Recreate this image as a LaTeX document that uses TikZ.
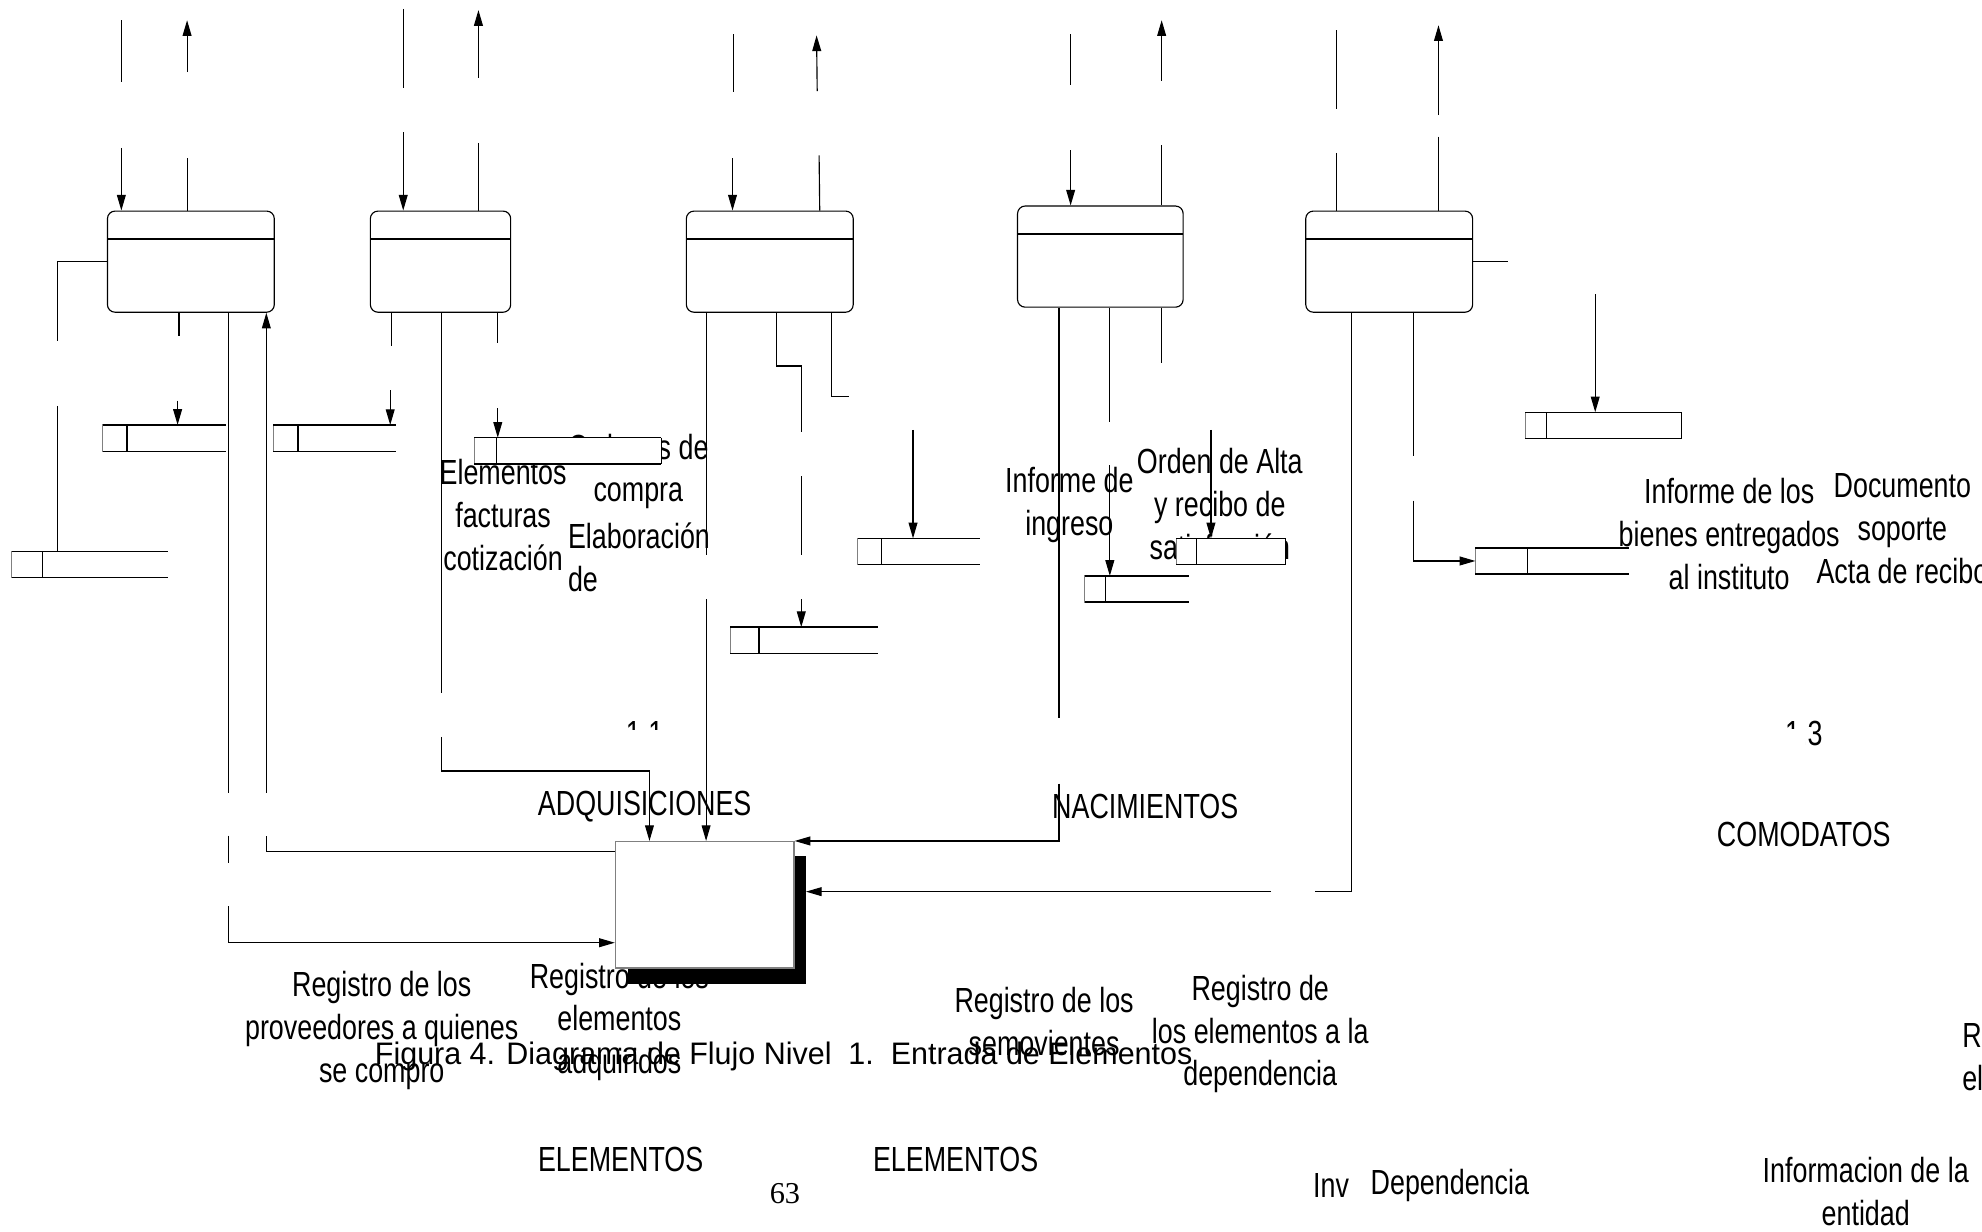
\documentclass[tikz,border=0pt]{standalone}
\usepackage{fontspec}
\setmainfont{Liberation Sans}[FakeStretch=0.77]
\newfontfamily\capfont{Liberation Sans}[FakeStretch=0.98]
\newfontfamily\pagefont{Liberation Serif}
\usetikzlibrary{arrows.meta, calc}
\tikzstyle{proc} = [draw, rounded corners=3pt, line width=0.45pt,
minimum height=40pt, inner sep=0pt,
path picture={\draw[line width=0.6pt] ([yshift=-11pt]path picture bounding box.north west) -- ([yshift=-11pt]path picture bounding box.north east);}]
\tikzstyle{store} = [minimum height=10pt, inner sep=0pt, fill=white]
\tikzstyle{ent} = [draw=gray, fill=white, line width=0.6pt,
minimum width=70.5pt, minimum height=49.9pt]
\tikzstyle{lbl} = [align=center, inner sep=0pt, font=\fontsize{13.8}{17}\selectfont]
\tikzstyle{flow} = [line width=0.45pt]
\tikzstyle{arrow} = [line width=0.45pt, -{Triangle[length=6.2pt,width=3.5pt]}]
\begin{document}
\begin{tikzpicture}[x=0.5pt, y=-0.5pt]
        \useasboundingbox (0,0) rectangle (1568,974);
        \clip (0,0) rectangle (1568,974);

        % --- Textos ---
        \node[lbl] (tElem) at (398,407.5) {Elementos\\facturas\\cotización};
        \node[lbl] (tOrd) at (505,373) {Ordenes de\\compra};
        \node[lbl, align=left, anchor=west] (tElab) at (449,441) {Elaboración\\de};
        \node[lbl] (tAlta) at (965,399) {Orden de Alta\\y recibo de\\satisfacción};
        \node[lbl, fill=white, inner xsep=2pt] (tInf) at (846,399.5) {Informe de\\ingreso};
        \node[lbl] (tBien) at (1368,422.5) {Informe de los\\bienes entregados\\al instituto};
        \node[lbl] (tDoc) at (1505,418.5) {Documento\\soporte\\Acta de recibo};
        \node[lbl] (tAdq) at (510,638) {ADQUISICIONES};
        \node[lbl] (tNac) at (906,638) {NACIMIENTOS};
        \node[lbl] (tCom) at (1427,660) {COMODATOS};
        \node[lbl] (tProv) at (302,815) {Registro de los\\proveedores a quienes\\se compro};
        \node[lbl] (tAdqR) at (490,808.5) {Registro de los\\elementos\\adquiridos};
        \node[lbl] (tSem) at (826,808.5) {Registro de los\\semovientes};
        \node[lbl] (tDep) at (997,818) {Registro de\\los elementos a la\\dependencia};
        \node[lbl] (tEl1) at (491,917) {ELEMENTOS};
        \node[lbl] (tEl2) at (756,917) {ELEMENTOS};
        \node[lbl] (tInv) at (1053,938) {Inv};
        \node[lbl] (tDepE) at (1147,938) {Dependencia};
        \node[lbl] (tEnt) at (1476,943) {Informacion de la\\entidad};
        \node[lbl, align=left, anchor=west] (tR) at (1552,836.5) {R\\el};
        \node[inner sep=0pt, font=\capfont\fontsize{12.3}{14}\selectfont] (cap) at (620,836) {Figura 4. Diagrama de Flujo Nivel\ \ 1.\ \ Entrada de Elementos};
        \node[inner sep=0pt, font=\pagefont\fontsize{12}{14}\selectfont] (pg) at (621,944) {63};
        \begin{scope}
            \clip (490,568) rectangle (530,577);
            \node[lbl] (n11) at (510,580) {1.1};
        \end{scope}
        \begin{scope}
            \clip (1410,566) rectangle (1422,576) (1428,565) rectangle (1446,596);
            \node[lbl] (n13) at (1427,580) {1.3};
        \end{scope}

        % --- Procesos ---
        \node[proc, minimum width=66pt] (P1) at (151,207) {};
        \node[proc, minimum width=55.5pt] (P2) at (348.5,207) {};
        \node[proc, minimum width=66pt] (P3) at (609,207) {};
        \node[proc, minimum width=65.5pt] (P4) at (870.5,203) {};
        \node[proc, minimum width=66pt] (P5) at (1099,207) {};

        % --- Almacenes ---
        \node[store, minimum width=61.6pt] (S1) at (71.1,446.5) {};
        \node[store, minimum width=48.15pt] (S2) at (129.85,346.55) {};
        \node[store, minimum width=48.25pt] (S3) at (264.75,346.6) {};
        \node[store, minimum width=73.65pt] (S4) at (449.05,356.7) {};
        \node[store, minimum width=58.2pt] (S5) at (636.2,506.5) {};
        \node[store, minimum width=48pt] (S6) at (727,436.3) {};
        \node[store, minimum width=40.75pt] (S7) at (899.25,466) {};
        \node[store, minimum width=42.8pt] (S8) at (973.8,436.3) {};
        \node[store, minimum width=60.2pt] (S9) at (1227.8,443.8) {};
        \node[store, minimum width=61.5pt] (S10) at (1268.5,336.5) {};
        \foreach \s/\d in {S1/24.5, S2/19.3, S3/19.5, S4/17.6, S5/23, S6/19, S7/16.5, S8/16, S9/41, S10/17} {
            \draw[gray, line width=0.4pt] (\s.north west) rectangle ($(\s.south west)+(\d,0)$);
            \draw[line width=0.55pt] ($(\s.north west)+(\d,0)$) -- ($(\s.south west)+(\d,0)$);
            \draw[line width=0.55pt] (\s.north west) -- (\s.north east) (\s.south west) -- (\s.south east);
        }
        \foreach \s in {S4, S8, S10}
            \draw[line width=0.45pt] (\s.north east) -- (\s.south east);

        % --- Entrada de elementos ---
        \node[ent] (E) at (557.5,715.8) {};
        \coordinate (shd) at ($(E.east)+(9,0)$);

        % --- Conexiones P1 ---
        \draw[flow] (96,16) -- (96,65);
        \draw[arrow] (96,117) -- (96,0 |- P1.north);
        \draw[arrow] (148,57) -- (148,16);
        \draw[flow] (148,125) -- (148,0 |- P1.north);
        \draw[flow] (P1.west) -| (45.6,269.5);
        \draw[flow] (45.6,321) -- (45.6,0 |- S1.north);
        \draw[flow] (141.6,0 |- P1.south) -- (141.6,265.6);
        \draw[arrow] (140.5,317) -- (140.5,0 |- S2.north);
        \draw[flow] (180.7,0 |- P1.south) -- (180.7,627);
        \draw[flow] (180.7,661) -- (180.7,682.5);
        \draw[arrow] (180.7,717) |- (E.west |- 0,745.8);
        \draw[flow] (E.west |- 0,673.8) -| (210.7,661);
        \draw[arrow] (210.7,627) -- (210.7,0 |- P1.south);

        % --- Conexiones P2 ---
        \draw[flow] (319,7) -- (319,70);
        \draw[arrow] (319,104.5) -- (319,0 |- P2.north);
        \draw[arrow] (378.5,61.5) -- (378.5,8);
        \draw[flow] (378.5,113) -- (378.5,0 |- P2.north);
        \draw[flow] (309.4,0 |- P2.south) -- (309.4,274);
        \draw[arrow] (308.7,308.6) -- (308.7,0 |- S3.north);
        \draw[flow] (349,0 |- P2.south) -- (349,548);
        \draw[arrow] (349,583) |- (513.8,610) -- (513.8,0 |- E.north);
        \draw[flow] (393.8,0 |- P2.south) -- (393.8,271);
        \draw[arrow] (393.8,322.8) -- (393.8,0 |- S4.north);

        % --- Conexiones P3 ---
        \draw[flow] (580,27) -- (580,73);
        \draw[arrow] (579.5,125) -- (579.5,0 |- P3.north);
        \draw[arrow] (646.5,72) -- (646,28);
        \draw[flow] (648,123) -- (648.5,0 |- P3.north);
        \draw[flow] (558.6,0 |- P3.south) -- (558.6,439);
        \draw[arrow] (558.6,474) -- (558.6,0 |- E.north);
        \draw[flow] (614.6,0 |- P3.south) |- (633.9,289.6) -- (633.9,341.8);
        \draw[flow] (633.9,376.6) -- (633.9,439);
        \draw[arrow] (633.9,474) -- (633.9,0 |- S5.north);
        \draw[flow] (657.6,0 |- P3.south) |- (671.4,314);
        \draw[arrow] (722.3,340) -- (722.3,0 |- S6.north);

        % --- Conexiones P4 ---
        \draw[flow] (847,27) -- (847,67);
        \draw[arrow] (847,119) -- (847,0 |- P4.north);
        \draw[arrow] (919,64) -- (919,16);
        \draw[flow] (919,115) -- (919,0 |- P4.north);
        \draw[flow] (837.8,0 |- P4.south) -- (837.8,568);
        \draw[arrow] (837.8,620) |- (E.north east);
        \draw[flow] (878,0 |- P4.south) -- (878,333.6);
        \draw[arrow] (878,368) -- (878,0 |- S7.north);
        \draw[flow] (919,0 |- P4.south) -- (919,287.4);
        \draw[arrow] (958,340) -- (958,0 |- S8.north);

        % --- Conexiones P5 ---
        \draw[flow] (1057,24) -- (1057,86.5);
        \draw[flow] (1057,121) -- (1057,0 |- P5.north);
        \draw[arrow] (1138,91) -- (1138,20);
        \draw[flow] (1138,108) -- (1138,0 |- P5.north);
        \draw[flow] (P5.east) -- (1193,207);
        \draw[flow] (1069.5,0 |- P5.south) |- (1040,705.4);
        \draw[arrow] (1005.6,705.4) -- (shd |- 0,705.4);
        \draw[flow] (1118,0 |- P5.south) -- (1118,361);
        \draw[arrow] (1118,396) |- (S9.west);
        \draw[arrow] (1262,232.6) -- (1262,0 |- S10.north);

        % --- Sombra ---
        \fill ($(E.south west)+(10.5,0)$) rectangle ($(E.south east)+(9,11.8)$);
        \fill ($(E.north east)+(0,12)$) rectangle ($(E.south east)+(9,0)$);

    \end{tikzpicture}
\end{document}
